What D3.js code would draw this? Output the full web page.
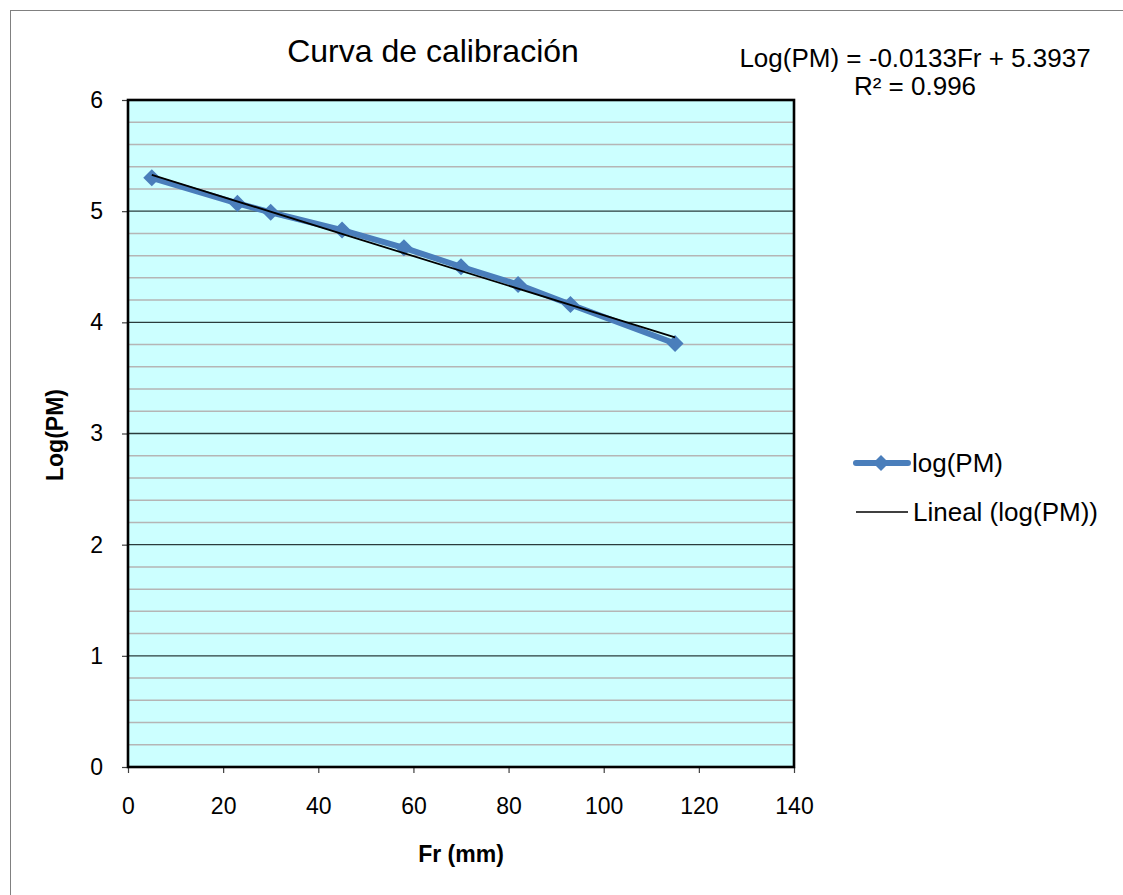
<!DOCTYPE html>
<html>
<head>
<meta charset="utf-8">
<script src="https://cdn.jsdelivr.net/npm/d3@7"></script>
<style>
  body { margin: 0; background: #fff; }
  text { font-family: Arial, "Liberation Sans", sans-serif; fill: #000; }
</style>
</head>
<body>
<script>
// data
var fr = [5, 23, 30, 45, 58, 70, 82, 93, 115];
var logPM = [5.30, 5.07, 4.99, 4.83, 4.67, 4.50, 4.34, 4.16, 3.81];
var slope = -0.0133;
var intercept = 5.3937;
var xTicks = [0, 20, 40, 60, 80, 100, 120, 140];
var yTicks = [0, 1, 2, 3, 4, 5, 6];

(function() {
  var w = 1123, h = 895;
  var pLeft = 128, pRight = 794, pTop = 100, pBottom = 767;
  var blue = "#4a7ebb";

  var svg = d3.select("body").append("svg")
      .attr("width", w)
      .attr("height", h);

  // outer chart border (runs off the right/bottom edge)
  svg.append("rect")
      .attr("x", 10.5).attr("y", 10.5)
      .attr("width", 1130).attr("height", 900)
      .attr("fill", "none")
      .attr("stroke", "#808080");

  var xScale = d3.scaleLinear().domain([0, 140]).range([pLeft, pRight]);
  var yScale = d3.scaleLinear().domain([0, 6]).range([pBottom, pTop]);

  // plot background
  svg.append("rect")
      .attr("x", pLeft).attr("y", pTop)
      .attr("width", pRight - pLeft).attr("height", pBottom - pTop)
      .attr("fill", "#ccffff");

  // minor gridlines every 0.2
  var minor = d3.range(0, 30).map(function(i) { return i * 0.2; })
      .filter(function(v) { return Math.abs(v - Math.round(v)) > 0.01; });
  svg.selectAll(".minor").data(minor).enter().append("line")
      .attr("x1", pLeft).attr("x2", pRight)
      .attr("y1", function(d) { return yScale(d); })
      .attr("y2", function(d) { return yScale(d); })
      .attr("stroke", "#b5b5b5")
      .attr("stroke-width", 1.5);

  // major gridlines
  svg.selectAll(".major").data(yTicks.slice(1, 6)).enter().append("line")
      .attr("x1", pLeft).attr("x2", pRight)
      .attr("y1", function(d) { return yScale(d); })
      .attr("y2", function(d) { return yScale(d); })
      .attr("stroke", "#2a3c3c")
      .attr("stroke-width", 1.4);

  // axes
  var xAxis = d3.axisBottom(xScale).tickValues(xTicks).tickSize(6).tickPadding(25);
  var yAxis = d3.axisLeft(yScale).tickValues(yTicks).tickFormat(d3.format("d"))
      .tickSize(6).tickPadding(19);

  var gX = svg.append("g")
      .attr("transform", "translate(0," + pBottom + ")")
      .call(xAxis);
  var gY = svg.append("g")
      .attr("transform", "translate(" + pLeft + ",0)")
      .call(yAxis);

  [gX, gY].forEach(function(g) {
    g.select(".domain").remove();
    g.selectAll("line").attr("stroke", "#404040").attr("stroke-width", 1.2);
    g.selectAll("text")
        .style("font-size", "23px")
        .attr("font-family", "Arial, 'Liberation Sans', sans-serif")
        .attr("fill", "#000");
  });

  // plot frame
  svg.append("rect")
      .attr("x", pLeft).attr("y", pTop)
      .attr("width", pRight - pLeft).attr("height", pBottom - pTop)
      .attr("fill", "none")
      .attr("stroke", "#000")
      .attr("stroke-width", 2.6);

  // series line + markers
  var pts = fr.map(function(d, i) { return [d, logPM[i]]; });
  var line = d3.line()
      .x(function(d) { return xScale(d[0]); })
      .y(function(d) { return yScale(d[1]); });

  svg.append("path")
      .datum(pts)
      .attr("d", line)
      .attr("fill", "none")
      .attr("stroke", blue)
      .attr("stroke-width", 6)
      .attr("stroke-linejoin", "round");

  var diamond = d3.symbol().type(d3.symbolDiamond2).size(185);
  svg.selectAll(".pt").data(pts).enter().append("path")
      .attr("d", diamond)
      .attr("transform", function(d) { return "translate(" + xScale(d[0]) + "," + yScale(d[1]) + ")"; })
      .attr("fill", blue);

  // linear trendline from the fitted equation
  var x0 = d3.min(fr), x1 = d3.max(fr);
  var trend = [[x0, slope * x0 + intercept], [x1, slope * x1 + intercept]];
  svg.append("path")
      .datum(trend)
      .attr("d", line)
      .attr("stroke", "#000")
      .attr("stroke-width", 1.8)
      .attr("fill", "none");

  // titles
  svg.append("text")
      .attr("x", 433).attr("y", 62)
      .attr("text-anchor", "middle")
      .style("font-size", "32px")
      .text("Curva de calibración");

  svg.append("text")
      .attr("x", 915).attr("y", 67)
      .attr("text-anchor", "middle")
      .style("font-size", "26px")
      .text("Log(PM) = -0.0133Fr + 5.3937");
  svg.append("text")
      .attr("x", 915).attr("y", 95)
      .attr("text-anchor", "middle")
      .style("font-size", "26px")
      .text("R² = 0.996");

  svg.append("text")
      .attr("x", 461).attr("y", 862)
      .attr("text-anchor", "middle")
      .style("font-size", "23px")
      .style("font-weight", "bold")
      .text("Fr (mm)");

  svg.append("text")
      .attr("transform", "translate(63,435) rotate(-90)")
      .attr("text-anchor", "middle")
      .style("font-size", "23px")
      .style("font-weight", "bold")
      .text("Log(PM)");

  // legend
  var lg = svg.append("g");
  lg.append("line")
      .attr("x1", 856).attr("x2", 908).attr("y1", 463).attr("y2", 463)
      .attr("stroke", blue).attr("stroke-width", 6).attr("stroke-linecap", "round");
  lg.append("path")
      .attr("d", d3.symbol().type(d3.symbolDiamond2).size(165))
      .attr("transform", "translate(881,463)")
      .attr("fill", blue);
  lg.append("text")
      .attr("x", 912).attr("y", 472)
      .style("font-size", "26px")
      .text("log(PM)");
  lg.append("line")
      .attr("x1", 856).attr("x2", 908).attr("y1", 512).attr("y2", 512)
      .attr("stroke", "#000").attr("stroke-width", 1.3);
  lg.append("text")
      .attr("x", 913).attr("y", 521)
      .style("font-size", "26px")
      .text("Lineal (log(PM))");
})();
</script>
</body>
</html>
